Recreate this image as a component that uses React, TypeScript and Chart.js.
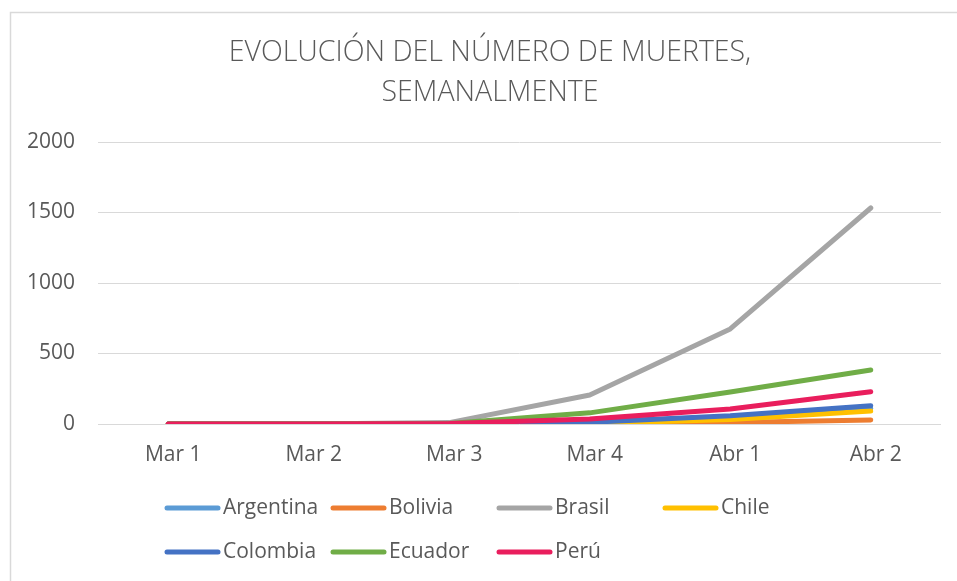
import React, { useEffect, useRef } from "react";
import { Chart, registerables } from "chart.js";

Chart.register(...registerables);

const categories = ["Mar 1", "Mar 2", "Mar 3", "Mar 4", "Abr 1", "Abr 2"];
const argentina = [0, 0, 2, 20, 45, 110];
const bolivia = [0, 0, 0, 2, 10, 29];
const brasil = [0, 0, 10, 206, 674, 1532];
const chile = [0, 0, 0, 3, 32, 92];
const colombia = [0, 0, 0, 12, 58, 130];
const ecuador = [0, 0, 4, 79, 227, 383];
const peru = [0, 0, 3, 35, 106, 229];
const yTicks = [0, 500, 1000, 1500, 2000];
const titleLines = ["EVOLUCIÓN DEL NÚMERO DE MUERTES,", "SEMANALMENTE"];

const seriesNames = ["Argentina", "Bolivia", "Brasil", "Chile", "Colombia", "Ecuador", "Perú"];
const seriesValues = [argentina, bolivia, brasil, chile, colombia, ecuador, peru];
const seriesColors = ["#5B9BD5", "#ED7D31", "#A5A5A5", "#FFC000", "#4472C4", "#70AD47", "#E91E5D"];

const TEXT = "#595959";
const FONT = "'Open Sans', sans-serif";

const decorPlugin = {
  id: "decor",
  afterDraw(chart: any) {
    const ctx = chart.ctx as CanvasRenderingContext2D;
    ctx.save();
    // frame
    ctx.strokeStyle = "#D9D9D9";
    ctx.lineWidth = 1.5;
    ctx.beginPath();
    ctx.moveTo(10.5, 600);
    ctx.lineTo(10.5, 12.5);
    ctx.lineTo(960, 12.5);
    ctx.stroke();
    // title
    ctx.fillStyle = TEXT;
    ctx.font = `300 28.5px ${FONT}`;
    ctx.textAlign = "center";
    ctx.textBaseline = "middle";
    titleLines.forEach((t, i) => ctx.fillText(t, 490, 53 + i * 40));
    // legend
    ctx.font = `21px ${FONT}`;
    ctx.textAlign = "left";
    chart.data.datasets.forEach((ds: any, i: number) => {
      const col = i % 4;
      const row = Math.floor(i / 4);
      const x = 167 + col * 166;
      const y = 508 + row * 44;
      ctx.strokeStyle = ds.borderColor;
      ctx.lineWidth = 5;
      ctx.lineCap = "round";
      ctx.beginPath();
      ctx.moveTo(x, y);
      ctx.lineTo(x + 51, y);
      ctx.stroke();
      ctx.fillStyle = TEXT;
      ctx.fillText(ds.label, x + 56, y);
    });
    ctx.restore();
  },
};

export default function App() {
  const ref = useRef<HTMLCanvasElement>(null);
  useEffect(() => {
    if (!ref.current) return;
    const chart = new Chart(ref.current, {
      type: "line",
      data: {
        labels: categories,
        datasets: seriesNames.map((name, i) => ({
          label: name,
          data: seriesValues[i],
          borderColor: seriesColors[i],
          backgroundColor: seriesColors[i],
          borderWidth: 5,
          borderCapStyle: "round",
          borderJoinStyle: "round",
          pointRadius: 0,
          tension: 0,
          order: seriesNames.length - i,
        })),
      },
      options: {
        responsive: false,
        animation: false,
        devicePixelRatio: 1,
        layout: { padding: { left: 0, right: 16, top: 142, bottom: 97 } },
        plugins: {
          legend: { display: false },
          title: { display: false },
          tooltip: { enabled: false },
        },
        scales: {
          x: {
            offset: true,
            grid: { display: false, drawTicks: false },
            border: { display: false },
            ticks: {
              color: TEXT,
              font: { family: FONT, size: 21 },
              padding: 18,
              labelOffset: 5,
              maxRotation: 0,
            },
            afterFit: (s: any) => { s.height = 60; },
          },
          y: {
            min: 0,
            max: 2000,
            afterBuildTicks: (s: any) => { s.ticks = yTicks.map((v) => ({ value: v })); },
            grid: { color: "#D9D9D9", lineWidth: 1, drawTicks: false },
            border: { display: false },
            ticks: {
              color: TEXT,
              font: { family: FONT, size: 21 },
              padding: 23,
              callback: (v: any) => String(v),
            },
            afterFit: (s: any) => { s.width = 98; },
          },
        },
      },
      plugins: [decorPlugin],
    });
    return () => chart.destroy();
  }, []);
  return (
    <canvas
      ref={ref}
      width={957}
      height={581}
      style={{ position: "fixed", left: 0, top: 0, width: 957, height: 581, background: "#fff" }}
    />
  );
}
